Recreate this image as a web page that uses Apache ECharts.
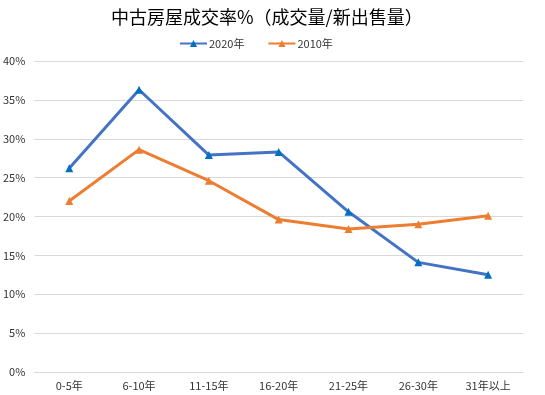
<!DOCTYPE html>
<html><head><meta charset="utf-8">
<script src="https://cdn.jsdelivr.net/npm/echarts@6/dist/echarts.min.js"></script>
<style>html,body{margin:0;padding:0;background:#fff}#c{width:545px;height:395px}</style>
</head><body><div id="c"></div>
<script>
const categories = ['0-5年','6-10年','11-15年','16-20年','21-25年','26-30年','31年以上'];
const series2020 = [26.2, 36.3, 27.9, 28.3, 20.6, 14.1, 12.5];
const series2010 = [22.0, 28.6, 24.6, 19.6, 18.4, 19.0, 20.1];
const seriesNames = ['2020年','2010年'];
const font = '"Noto Sans CJK JP", "Noto Sans", sans-serif';
const tickFont = '"Noto Sans CJK JP", sans-serif';
const chart = echarts.init(document.getElementById('c'), null, {renderer:'canvas'});
chart.setOption({
  animation:false,
  title:{text:'中古房屋成交率%（成交量/新出售量）',left:106,top:3,
    textStyle:{fontFamily:font,fontSize:18,fontWeight:'normal',color:'#000'}},
  legend:{top:33,left:174,itemGap:23,itemWidth:27,itemHeight:9,
    textStyle:{fontFamily:tickFont,fontSize:11,color:'#333',padding:[0,0,0,-3]},
    data:seriesNames},
  grid:{left:34,right:22,top:61,bottom:23,containLabel:false},
  xAxis:{type:'category',data:categories,boundaryGap:true,
    axisLine:{lineStyle:{color:'#d9d9d9'}},axisTick:{show:false},
    axisLabel:{fontFamily:tickFont,fontSize:11,color:'#333',margin:8}},
  yAxis:{type:'value',min:0,max:40,interval:5,
    axisLabel:{formatter:'{value}%',fontFamily:tickFont,fontSize:11,color:'#333',margin:9},
    splitLine:{lineStyle:{color:'#d9d9d9'}},axisLine:{show:false},axisTick:{show:false}},
  series:[
    {name:seriesNames[0],type:'line',data:series2020,symbol:'triangle',symbolSize:8,
      lineStyle:{color:'#4472C4',width:3},itemStyle:{color:'#0070C0'}},
    {name:seriesNames[1],type:'line',data:series2010,symbol:'triangle',symbolSize:8,
      lineStyle:{color:'#ED7D31',width:3},itemStyle:{color:'#ED7D31'}}
  ]
});
</script></body></html>
